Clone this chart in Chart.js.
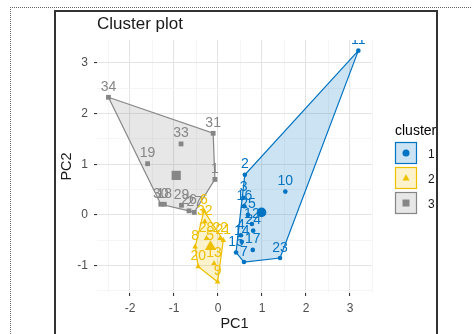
<!DOCTYPE html>
<html>
<head>
<meta charset="utf-8">
<script src="https://cdn.jsdelivr.net/npm/chart.js@4.4.1/dist/chart.umd.min.js"></script>
<style>
body{margin:0;background:#fff;}
#wrap{position:relative;width:472px;height:334px;overflow:hidden;}
#dots{position:absolute;left:10px;top:7px;width:480px;height:340px;border-top:1px dotted #666;border-left:1px dotted #666;}
#box{position:absolute;left:54px;top:10px;width:380px;height:340px;border:2px solid #333;}
canvas{position:absolute;left:0;top:0;}
</style>
</head>
<body>
<div id="wrap">
  <div id="dots"></div>
  <div id="box"></div>
  <canvas id="chart01" width="472" height="334"></canvas>
</div>
<script>
// クラスタ1（青）
var c1Labels = ['11','2','10','3','16','25','12','24','4','14','17','15','7','23'];
var c1X = [3.19, 0.61, 1.53, 0.58, 0.60, 0.68, 0.77, 0.80, 0.52, 0.54, 0.79, 0.41, 0.59, 1.41];
var c1Y = [3.24, 0.79, 0.46, 0.34, 0.17, 0.00, -0.18, -0.31, -0.40, -0.53, -0.69, -0.74, -0.93, -0.85];
var c1Hull = ['11','23','7','15','2'];
var c1Center = [0.99, 0.05];

// クラスタ2（黄）
var c2Labels = ['6','32','28','22','21','8','5','20','13','9'];
var c2X = [-0.32, -0.30, -0.26, 0.05, 0.12, -0.52, -0.18, -0.45, -0.09, -0.01];
var c2Y = [0.08, -0.13, -0.46, -0.46, -0.50, -0.63, -0.62, -1.02, -0.96, -1.32];
var c2Hull = ['6','21','9','20','8'];
var c2Center = [-0.17, -0.63];

// クラスタ3（灰）
var c3Labels = ['34','31','33','19','1','30','18','29','26','27'];
var c3X = [-2.49, -0.11, -0.84, -1.60, -0.07, -1.30, -1.22, -0.83, -0.66, -0.54];
var c3Y = [2.32, 1.61, 1.40, 1.01, 0.70, 0.21, 0.21, 0.19, 0.08, 0.05];
var c3Hull = ['34','31','1','27','26','30'];
var c3Center = [-0.95, 0.78];

// 軸
var xTicks = [-2, -1, 0, 1, 2, 3];
var yTicks = [-1, 0, 1, 2, 3];
var xRange = [-2.75, 3.5];
var yRange = [-1.54, 3.45];
var legendLabels = ['1', '2', '3'];

var colors = ['#0073C2', '#EFC000', '#868686'];
var fills = ['rgba(0,115,194,0.2)', 'rgba(239,192,0,0.2)', 'rgba(134,134,134,0.2)'];
var styles = ['circle', 'triangle', 'rect'];
var radii = [2.3, 3.3, 3.4];
var centerRadii = [4.8, 6.5, 6.5];
var FONT = '"Liberation Sans", Arial, sans-serif';

function toPoints(xs, ys) {
  return xs.map(function (v, i) { return { x: v, y: ys[i] }; });
}
function toHull(labels, xs, ys, order) {
  var p = order.map(function (l) {
    var i = labels.indexOf(l);
    return { x: xs[i], y: ys[i] };
  });
  p.push(p[0]);
  return p;
}
// 目盛り（主＋副）
function withMinor(ticks, range) {
  var out = [];
  var step = ticks[1] - ticks[0];
  var m = ticks[0] - step / 2;
  if (m >= range[0]) out.push({ value: m });
  ticks.forEach(function (t) {
    out.push({ value: t });
    if (t + step / 2 <= range[1]) out.push({ value: t + step / 2 });
  });
  return out;
}
function isMajor(v) { return Math.abs(v - Math.round(v)) < 1e-6; }

var clusters = [
  [c1Labels, c1X, c1Y, c1Hull, c1Center],
  [c2Labels, c2X, c2Y, c2Hull, c2Center],
  [c3Labels, c3X, c3Y, c3Hull, c3Center]
];

var datasets = [];
clusters.forEach(function (c, k) {
  datasets.push({
    type: 'line',
    data: toHull(c[0], c[1], c[2], c[3]),
    borderColor: colors[k],
    backgroundColor: fills[k],
    borderWidth: 1.2,
    fill: 'shape',
    tension: 0,
    pointRadius: 0,
    order: 3
  });
});
clusters.forEach(function (c, k) {
  datasets.push({
    type: 'scatter',
    data: toPoints(c[1], c[2]),
    pointLabels: c[0],
    pointStyle: styles[k],
    pointRadius: radii[k],
    backgroundColor: colors[k],
    borderColor: colors[k],
    borderWidth: 0,
    order: 2
  });
  datasets.push({
    type: 'scatter',
    data: [{ x: c[4][0], y: c[4][1] }],
    pointStyle: styles[k],
    pointRadius: centerRadii[k],
    backgroundColor: colors[k],
    borderColor: colors[k],
    borderWidth: 0,
    order: 1
  });
});

// 点のラベル
var pointLabels = {
  id: 'pointLabels',
  afterDatasetsDraw: function (chart) {
    var ctx = chart.ctx, a = chart.chartArea;
    ctx.save();
    ctx.beginPath();
    ctx.rect(a.left, a.top, a.right - a.left, a.bottom - a.top);
    ctx.clip();
    ctx.font = '14px ' + FONT;
    ctx.textAlign = 'center';
    ctx.textBaseline = 'alphabetic';
    chart.data.datasets.forEach(function (ds, i) {
      if (!ds.pointLabels) return;
      var meta = chart.getDatasetMeta(i);
      ctx.fillStyle = ds.borderColor;
      meta.data.forEach(function (el, j) {
        ctx.fillText(ds.pointLabels[j], el.x, el.y - 6.5);
      });
    });
    ctx.restore();
  }
};

function drawSymbol(ctx, style, x, y, r) {
  ctx.beginPath();
  if (style === 'circle') {
    ctx.arc(x, y, r, 0, Math.PI * 2);
  } else if (style === 'triangle') {
    ctx.moveTo(x, y - r * 1.1);
    ctx.lineTo(x + r, y + r * 0.7);
    ctx.lineTo(x - r, y + r * 0.7);
    ctx.closePath();
  } else {
    ctx.rect(x - r, y - r, r * 2, r * 2);
  }
  ctx.fill();
}

// タイトルと凡例
var titleLegend = {
  id: 'titleLegend',
  afterDraw: function (chart) {
    var ctx = chart.ctx;
    ctx.save();
    ctx.fillStyle = '#1a1a1a';
    ctx.font = '17px ' + FONT;
    ctx.textAlign = 'left';
    ctx.textBaseline = 'alphabetic';
    ctx.fillText('Cluster plot', 97, 29);

    ctx.beginPath();
    ctx.rect(0, 0, 436, 334);
    ctx.clip();
    ctx.fillStyle = '#000';
    ctx.font = '14px ' + FONT;
    ctx.fillText('cluster', 395, 135);
    legendLabels.forEach(function (lab, k) {
      var top = 142 + k * 25;
      ctx.fillStyle = '#fff';
      ctx.fillRect(395.5, top + 0.5, 21, 21);
      ctx.fillStyle = fills[k];
      ctx.fillRect(395.5, top + 0.5, 21, 21);
      ctx.strokeStyle = colors[k];
      ctx.lineWidth = 1.2;
      ctx.strokeRect(395.5, top + 0.5, 21, 21);
      ctx.fillStyle = colors[k];
      drawSymbol(ctx, styles[k], 406, top + 11, 3.5);
      ctx.fillStyle = '#1a1a1a';
      ctx.font = '12px ' + FONT;
      ctx.fillText(lab, 428, top + 15.5);
    });
    ctx.restore();
  }
};

var ctx = document.getElementById('chart01');
var chart = new Chart(ctx, {
  type: 'scatter',
  data: { datasets: datasets },
  plugins: [pointLabels, titleLegend],
  options: {
    responsive: false,
    animation: false,
    events: [],
    layout: { padding: { left: 0, top: 40, right: 100, bottom: 0 } },
    plugins: { legend: { display: false }, tooltip: { enabled: false } },
    scales: {
      x: {
        type: 'linear',
        min: xRange[0],
        max: xRange[1],
        afterBuildTicks: function (axis) { axis.ticks = withMinor(xTicks, xRange); },
        afterFit: function (axis) { axis.height = 41; },
        border: { display: false },
        grid: {
          color: function (c) { return isMajor(c.tick.value) ? '#E4E4E4' : '#F2F2F2'; },
          lineWidth: function (c) { return isMajor(c.tick.value) ? 1.1 : 0.8; },
          tickColor: function (c) { return isMajor(c.tick.value) ? '#333' : 'rgba(0,0,0,0)'; },
          tickLength: 3
        },
        ticks: {
          padding: 5,
          color: '#4D4D4D',
          font: { size: 12, family: FONT },
          maxRotation: 0,
          autoSkip: false,
          callback: function (v) { return isMajor(v) ? String(Math.round(v)) : ''; }
        },
        title: {
          display: true,
          text: 'PC1',
          color: '#1a1a1a',
          font: { size: 14.5, family: FONT },
          padding: { top: 0, bottom: 1.3 }
        }
      },
      y: {
        type: 'linear',
        min: yRange[0],
        max: yRange[1],
        afterBuildTicks: function (axis) { axis.ticks = withMinor(yTicks, yRange); },
        afterFit: function (axis) { axis.width = 97; },
        border: { display: false },
        grid: {
          color: function (c) { return isMajor(c.tick.value) ? '#E4E4E4' : '#F2F2F2'; },
          lineWidth: function (c) { return isMajor(c.tick.value) ? 1.1 : 0.8; },
          tickColor: function (c) { return isMajor(c.tick.value) ? '#333' : 'rgba(0,0,0,0)'; },
          tickLength: 3
        },
        ticks: {
          padding: 6,
          color: '#4D4D4D',
          font: { size: 12, family: FONT },
          autoSkip: false,
          callback: function (v) { return isMajor(v) ? String(Math.round(v)) : ''; }
        },
        title: {
          display: true,
          text: 'PC2',
          color: '#1a1a1a',
          font: { size: 14.5, family: FONT },
          padding: { top: 58, bottom: 0 }
        }
      }
    }
  }
});
</script>
</body>
</html>
